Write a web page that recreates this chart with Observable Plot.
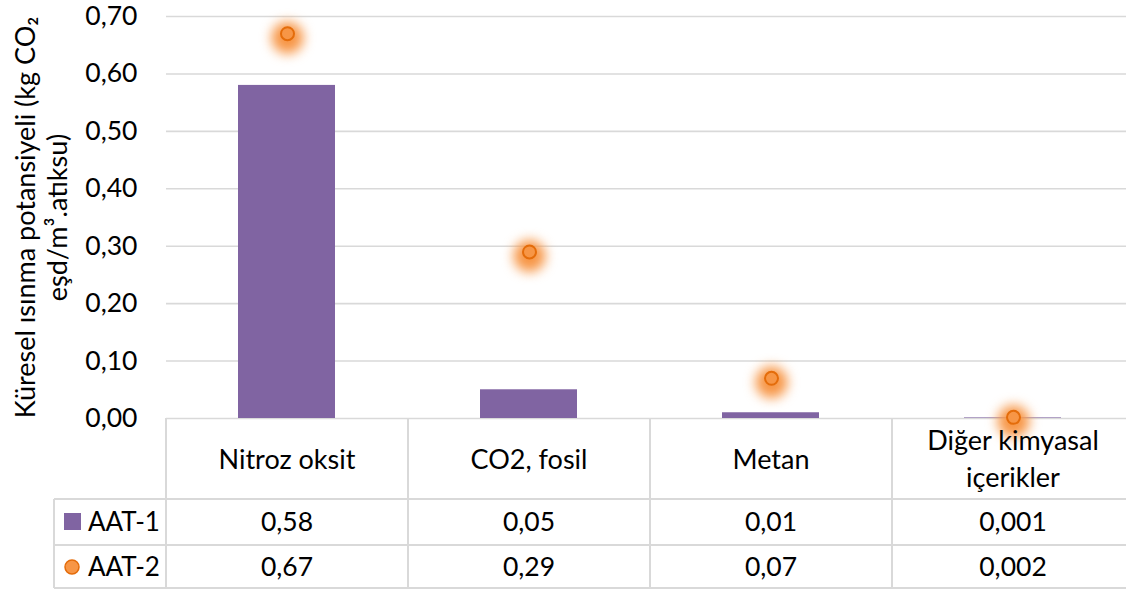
<!DOCTYPE html>
<html>
<head>
<meta charset="utf-8">
<script src="https://cdn.jsdelivr.net/npm/d3@7"></script>
<script src="https://cdn.jsdelivr.net/npm/@observablehq/plot@0.6"></script>
<style>
  html, body { margin: 0; padding: 0; background: #fff; }
  #chart { position: relative; width: 1126px; height: 590px; overflow: hidden; }
  #chart svg { max-width: none !important; }
</style>
</head>
<body>
<div id="chart"></div>
<script>
// Emission sources and their global warming potential per m³ of wastewater
const categories = ["Nitroz oksit", "CO2, fosil", "Metan", "Diğer kimyasal\niçerikler"];
const seriesNames = ["AAT-1", "AAT-2"];
const aat1 = [0.58, 0.05, 0.01, 0.001];
const aat2 = [0.67, 0.29, 0.07, 0.002];
const yTicks = [0, 0.1, 0.2, 0.3, 0.4, 0.5, 0.6, 0.7];
const yTitle = "Küresel ısınma potansiyeli (kg CO₂\neşd/m³.atıksu)";

const FONT = "Lato, 'Open Sans', sans-serif";
const NUM_SIZE = 26.5;
const TEXT_SIZE = 27;
const BAR = "#8064A2";
const DOT = "#F79646";
const DOT_STROKE = "#E46C0A";
const GRID = "#D9D9D9";

const rows = categories.map((cat, i) => ({cat, aat1: aat1[i], aat2: aat2[i]}));
const comma = (v, digits) => v.toFixed(digits).replace(".", ",");
const valueLabel = v => comma(v, v < 0.005 ? 3 : 2);

const chart = Plot.plot({
  width: 1140,
  height: 590,
  marginLeft: 166,
  marginRight: 6,
  marginTop: 16,
  marginBottom: 172,
  x: {domain: categories, padding: 0, axis: null},
  y: {domain: [0, 0.7], axis: null},
  style: {fontFamily: FONT, fontSize: "25px", color: "#000", background: "#fff", overflow: "visible"},
  marks: [
    Plot.ruleY(yTicks, {y: d => d, stroke: GRID, strokeWidth: 1.6}),
    Plot.text(yTicks, {y: d => d, text: d => comma(d, 2), frameAnchor: "left", dx: -29,
      textAnchor: "end", fontSize: NUM_SIZE, fill: "#000"}),
    Plot.barY(rows, {x: "cat", y: "aat1", fill: BAR, insetLeft: 72, insetRight: 73}),
    // soft glow under each AAT-2 marker
    Plot.dot(rows, {x: "cat", y: "aat2", r: 16, fill: DOT, fillOpacity: 1, dy: 4}),
    Plot.dot(rows, {x: "cat", y: "aat2", r: 6.5, fill: DOT, stroke: DOT_STROKE, strokeWidth: 2}),
    Plot.text([yTitle], {frameAnchor: "left", rotate: -90, dx: -126, lineHeight: 1.2,
      textAnchor: "middle", fontSize: 27, fill: "#000"})
  ]
});

// blur the glow layer
const dotGroups = chart.querySelectorAll('g[aria-label="dot"]');
if (dotGroups.length) dotGroups[0].style.filter = "blur(6px)";

// data table under the plot, columns aligned to the x scale bands
const xs = chart.scale("x");
const bw = xs.bandwidth;
const svg = d3.select(chart);
const g = svg.append("g").attr("font-family", FONT).attr("text-anchor", "middle");
const tableTop = 418, row1Top = 499, row2Top = 545, tableBottom = 588;
const tableLeft = 54, plotLeft = 166;
const tableRight = xs.apply(categories[categories.length - 1]) + bw;
const line = (x1, y1, x2, y2) => g.append("line")
  .attr("x1", x1).attr("y1", y1).attr("x2", x2).attr("y2", y2)
  .attr("stroke", GRID).attr("stroke-width", 2);

[row1Top, row2Top, tableBottom].forEach(y => line(tableLeft, y, tableRight, y));
line(tableLeft, row1Top, tableLeft, tableBottom);
line(plotLeft, tableTop, plotLeft, tableBottom);
categories.forEach(c => {
  const x1 = xs.apply(c) + bw;
  line(x1, tableTop, x1, tableBottom);
});

// category header cells
categories.forEach(c => {
  const cx = xs.apply(c) + bw / 2;
  const lines = c.split("\n");
  const lh = 37;
  const y0 = (tableTop + row1Top) / 2 + 1 - (lines.length - 1) * lh / 2;
  lines.forEach((t, k) => g.append("text")
    .attr("x", cx).attr("y", y0 + k * lh).attr("dy", "0.35em")
    .attr("font-size", TEXT_SIZE).text(t));
});

// value rows
[[aat1, row1Top, row2Top], [aat2, row2Top, tableBottom]].forEach(([vals, y1, y2], si) => {
  const cy = (y1 + y2) / 2;
  categories.forEach((c, i) => g.append("text")
    .attr("x", xs.apply(c) + bw / 2).attr("y", cy).attr("dy", "0.35em")
    .attr("font-size", NUM_SIZE).text(valueLabel(vals[i])));
  g.append("text").attr("x", 88).attr("y", cy).attr("dy", "0.35em")
    .attr("text-anchor", "start").attr("font-size", 26).text(seriesNames[si]);
});

// legend keys inside the row headers
g.append("rect").attr("x", 64).attr("y", 513).attr("width", 17).attr("height", 17).attr("fill", BAR);
g.append("circle").attr("cx", 72).attr("cy", 567).attr("r", 7).attr("fill", DOT)
  .attr("stroke", DOT_STROKE).attr("stroke-width", 1.5);

document.getElementById("chart").append(chart);
</script>
</body>
</html>
